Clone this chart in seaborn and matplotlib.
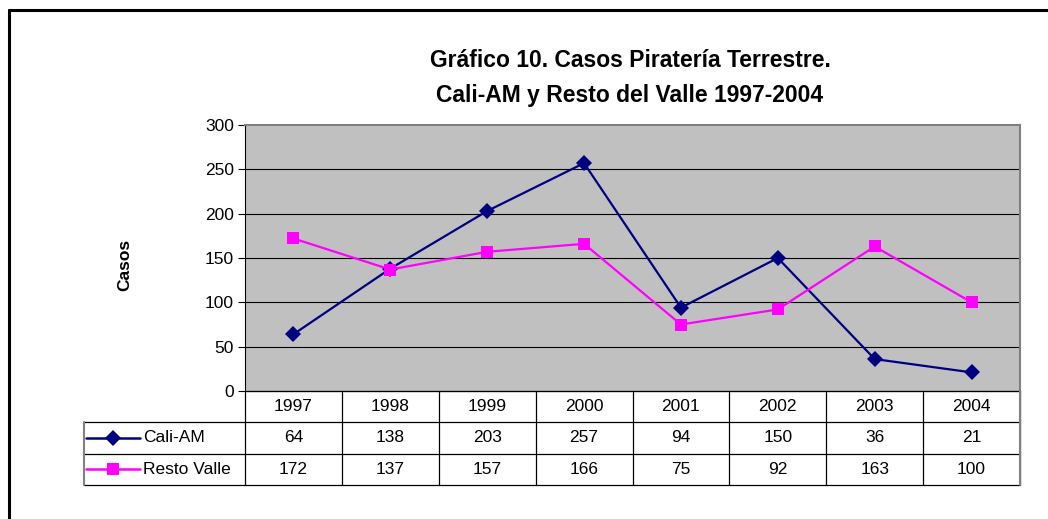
import numpy as np
import pandas as pd
import seaborn as sns
import matplotlib.pyplot as plt
from matplotlib.lines import Line2D

years = ['1997', '1998', '1999', '2000', '2001', '2002', '2003', '2004']
cali_am = [64, 138, 203, 257, 94, 150, 36, 21]
resto_valle = [172, 137, 157, 166, 75, 92, 163, 100]
series_names = ['Cali-AM', 'Resto Valle']
colors = {'Cali-AM': '#000080', 'Resto Valle': '#FF00FF'}
markers = {'Cali-AM': 'D', 'Resto Valle': 's'}

df = pd.DataFrame({
    'pos': list(range(len(years))) * 2,
    'casos': cali_am + resto_valle,
    'serie': ['Cali-AM'] * len(years) + ['Resto Valle'] * len(years),
})

sns.set_style('white')
plt.rcParams['font.family'] = ['Liberation Sans', 'DejaVu Sans']
plt.rcParams['text.color'] = 'black'
plt.rcParams['ytick.color'] = 'black'
plt.rcParams['axes.labelcolor'] = 'black'

W, H = 1048, 519
fs = 12.5
fig = plt.figure(figsize=(W / 100, H / 100), dpi=100)

# outer frame (only top and left edges visible)
fig.add_artist(Line2D([9 / W, 9 / W], [0, 1 - 10 / H], transform=fig.transFigure, color='black', lw=2.2))
fig.add_artist(Line2D([9 / W, 1], [1 - 10 / H, 1 - 10 / H], transform=fig.transFigure, color='black', lw=2.2))

# plot area
px_l, px_r, px_t, px_b = 245, 1020, 125, 391
ax = fig.add_axes([px_l / W, 1 - px_b / H, (px_r - px_l) / W, (px_b - px_t) / H])
ax.set_facecolor('#C0C0C0')
for y in [50, 100, 150, 200, 250]:
    ax.axhline(y, color='black', lw=0.8, zorder=0)

sns.lineplot(data=df, x='pos', y='casos', hue='serie', style='serie',
             palette=colors, markers=markers, dashes=False, markersize=8,
             linewidth=1.6, markeredgewidth=0, legend=False, ax=ax)

ax.set_xlim(-0.5, len(years) - 0.5)
ax.set_ylim(0, 300)
ax.set_yticks(range(0, 301, 50))
ax.set_xticks([])
ax.set_xlabel('')
ax.set_ylabel('')
ax.tick_params(axis='y', direction='out', length=5, width=0.8, color='black',
               labelsize=fs, pad=3, left=True)
for s in ['top', 'right']:
    ax.spines[s].set_color('#808080')
    ax.spines[s].set_linewidth(1.5)
ax.spines['left'].set_color('black')
ax.spines['left'].set_linewidth(0.8)
ax.spines['bottom'].set_color('black')
ax.spines['bottom'].set_linewidth(0.8)

fig.text(125 / W, 1 - 265 / H, 'Casos', rotation=90, ha='center', va='center',
         fontsize=fs, fontweight='bold')

fig.text(630 / W, 1 - 67 / H, 'Gráfico 10. Casos Piratería Terrestre.', ha='center', va='baseline',
         fontsize=16.5, fontweight='bold')
fig.text(630 / W, 1 - 102 / H, 'Cali-AM y Resto del Valle 1997-2004', ha='center', va='baseline',
         fontsize=16.5, fontweight='bold')

# data table under the plot
col_w = (px_r - px_l) / len(years)
lab_w = (px_l - 84) / col_w
tb_t, tb_b = 391, 485
tab = fig.add_axes([84 / W, 1 - tb_b / H, (px_r - 84) / W, (tb_b - tb_t) / H])
x0 = -0.5 - lab_w
x1 = len(years) - 0.5
tab.set_xlim(x0, x1)
tab.set_ylim(3, 0)
tab.axis('off')

lc = 'black'
lw = 0.9
# horizontal lines
tab.plot([-0.5, x1], [0, 0], color=lc, lw=lw, clip_on=False)
for r in [1, 2, 3]:
    tab.plot([x0, x1], [r, r], color=lc, lw=lw, clip_on=False)
# vertical lines
tab.plot([x0, x0], [1, 3], color='#808080', lw=1.5, clip_on=False)
for i in range(len(years) + 1):
    tab.plot([i - 0.5, i - 0.5], [0, 3], color=lc, lw=lw, clip_on=False)
tab.plot([x1, x1], [0, 3], color='#808080', lw=1.5, clip_on=False)

for i, yr in enumerate(years):
    tab.text(i, 0.5, yr, ha='center', va='center', fontsize=fs)
for r, (name, vals) in enumerate(zip(series_names, [cali_am, resto_valle]), start=1):
    for i, v in enumerate(vals):
        tab.text(i, r + 0.5, str(v), ha='center', va='center', fontsize=fs)
    lx0 = x0 + 0.02
    lx1 = lx0 + 0.56
    tab.plot([lx0, lx1], [r + 0.5, r + 0.5], color=colors[name], lw=1.8, clip_on=False)
    tab.plot([(lx0 + lx1) / 2], [r + 0.5], marker=markers[name], color=colors[name],
             markersize=8, markeredgewidth=0, clip_on=False)
    tab.text(lx1 + 0.03, r + 0.5, name, ha='left', va='center', fontsize=fs)

fig.savefig('out.png', dpi=100)
